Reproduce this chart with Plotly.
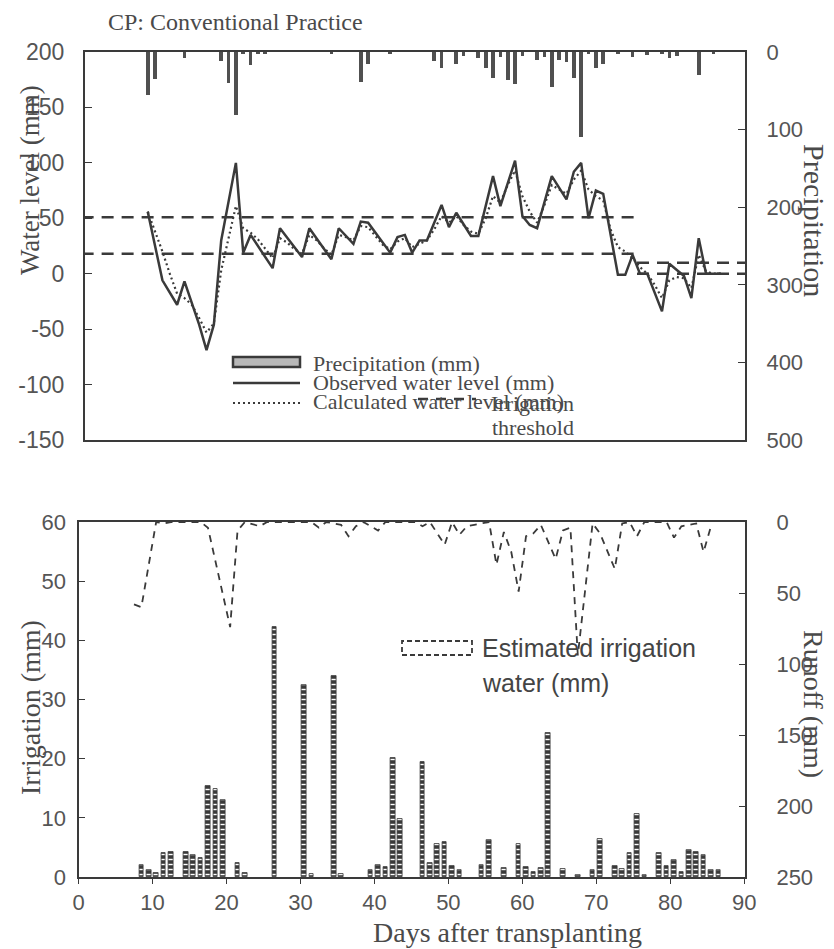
import plotly.graph_objects as go

# page is shown with the browser's default 8px body margin, so the figure is
# sized to fill the rest of the 834x949 window
OFF = 8
W, H = 834 - OFF, 949 - OFF

# ---------------- Top panel data ----------------
obs_days = [9, 11, 13, 14, 16, 17, 18, 19, 21, 22, 23, 26, 27, 30, 31, 34, 35, 37, 38, 39,
            42, 43, 44, 45, 46, 47, 49, 50, 51, 53, 54, 56, 57, 59, 60, 61, 62, 64, 66, 67,
            68, 69, 70, 71, 73, 74, 75, 76, 77, 79, 80, 82, 83, 84, 85, 87]
obs_level = [56, -6, -28, -7, -46, -69, -46, 30, 100, 19, 35, 5, 41, 15, 41, 13, 41, 27, 47, 46,
             19, 33, 35, 19, 30, 30, 62, 42, 55, 34, 34, 88, 61, 102, 52, 44, 41, 88, 67, 92,
             100, 50, 75, 72, -1, -1, 17, 0, 0, -34, 9, -2, -22, 32, 0, 0]

calc_days = list(range(9, 88))
calc_level = [56, 38, 20, 0, -18, -22, -28, -40, -53, -45,
              3, 32, 61, 41, 37, 31, 23, 14, 32, 28,
              22, 18, 35, 30, 23, 17, 35, 33, 30, 43,
              42, 34, 26, 22, 29, 32, 24, 27, 30, 40,
              52, 46, 52, 44, 38, 36, 50, 70, 64, 80,
              93, 70, 56, 46, 62, 80, 76, 72, 85, 93,
              76, 70, 66, 40, 24, 20, 14, 6, 0, -10,
              -22, -6, -3, -4, -13, 17, 2, 0, 0]

precip_days = [9, 10, 14, 19, 20, 21, 22, 23, 24, 25, 34, 38, 39, 42, 48, 49, 51, 52, 54, 55,
               56, 57, 58, 59, 60, 62, 63, 64, 65, 66, 67, 68, 69, 70, 71, 73, 75, 77, 79, 80,
               81, 84, 86]
precip_mm = [55, 35, 8, 12, 40, 81, 3, 17, 2, 2, 2, 39, 15, 2, 12, 20, 15, 5, 8, 20,
             33, 6, 36, 41, 5, 10, 6, 45, 10, 13, 34, 109, 2, 20, 15, 2, 6, 4, 3, 8,
             5, 30, 2]

# irrigation thresholds (two periods)
thr_start = [0, 75.6]
thr_end = [75.6, 91]
thr_upper = [51, 10]
thr_lower = [18, 0]

# ---------------- Bottom panel data ----------------
irr_days = [8, 9, 10, 11, 12, 14, 15, 16, 17, 18, 19, 21, 22, 26, 30, 31, 34, 35, 39, 40,
            41, 42, 43, 46, 47, 48, 49, 50, 51, 54, 55, 57, 59, 60, 61, 62, 63, 65, 67, 69,
            70, 72, 73, 74, 75, 76, 78, 79, 80, 81, 82, 83, 84, 85, 86]
irr_mm = [2.1, 1.2, 0.7, 4.1, 4.2, 4.3, 3.7, 3.2, 15.4, 14.8, 13.0, 2.4, 0.7, 42.3, 32.5, 0.5, 34.0, 0.5, 1.2, 2.1,
          1.7, 20.1, 9.8, 19.4, 2.4, 5.5, 6.0, 1.8, 1.2, 2.1, 6.3, 1.5, 5.5, 1.7, 0.8, 1.5, 24.4, 1.4, 0.3, 1.2,
          6.4, 1.8, 1.4, 4.1, 10.7, 0.4, 4.1, 1.8, 2.9, 0.8, 4.6, 4.3, 3.7, 1.1, 1.1]

ro_days = [7, 8, 10, 11, 12, 16, 17, 20, 21, 22, 24, 25, 31, 32, 33, 35, 36, 37, 38, 40,
           41, 45, 46, 47, 49, 50, 51, 52, 53, 55, 56, 57, 58, 59, 60, 61, 62, 64, 65, 66,
           67, 69, 70, 72, 73, 74, 75, 76, 79, 80, 81, 83, 84, 85]
ro_mm = [58, 60, 0, 1, 0, 0, 4, 74, 6, 0, 3, 0, 0, 4, 0, 2, 10, 3, 0, 6,
         0, 0, 3, 0, 16, 0, 9, 3, 2, 0, 30, 7, 21, 49, 10, 8, 2, 26, 6, 4,
         94, 1, 8, 33, 1, 0, 10, 0, 0, 11, 3, 1, 21, 3]

x_ticks = [0, 10, 20, 30, 40, 50, 60, 70, 80, 90]
wl_ticks = [-150, -100, -50, 0, 50, 100, 150, 200]
pr_ticks = [0, 100, 200, 300, 400, 500]
irr_ticks = [0, 10, 20, 30, 40, 50, 60]
ro_ticks = [0, 50, 100, 150, 200, 250]

# ---------------- styling helpers (window pixel -> paper fraction) ----------------
def px(x):
    return (x - OFF) / W


def py(y):
    return 1 - (y - OFF) / H


SERIF = "Liberation Serif"
SANS = "Liberation Sans"
INK = "#3a3a3a"
TXT = "#4a4a4a"


def tickfont(size=22):
    return dict(family=SANS, size=size, color="#555555")


fig = go.Figure()

# --- top panel traces
fig.add_trace(go.Bar(x=precip_days, y=precip_mm, xaxis="x", yaxis="y2", width=0.5,
                     marker=dict(color="#505050", line=dict(width=0)), showlegend=False))
for i in range(len(thr_start)):
    for lvl in (thr_upper[i], thr_lower[i]):
        fig.add_trace(go.Scatter(x=[thr_start[i], thr_end[i]], y=[lvl, lvl], mode="lines",
                                 line=dict(color=INK, width=2.5, dash="12px,8px"),
                                 xaxis="x", yaxis="y", showlegend=False))
fig.add_trace(go.Scatter(x=calc_days, y=calc_level, mode="lines",
                         line=dict(color=INK, width=2.2, dash="2px,3px"),
                         xaxis="x", yaxis="y", showlegend=False))
fig.add_trace(go.Scatter(x=obs_days, y=obs_level, mode="lines",
                         line=dict(color=INK, width=2.5),
                         xaxis="x", yaxis="y", showlegend=False))

# --- bottom panel: an empty trace so the labelled day axis (x2) exists as a subplot
fig.add_trace(go.Scatter(x=[], y=[], xaxis="x2", yaxis="y3", mode="lines",
                         showlegend=False, hoverinfo="skip"))
# data drawn on x3 (days centred between ticks, as in the source chart)
fig.add_trace(go.Bar(x=irr_days, y=irr_mm, xaxis="x3", yaxis="y3", width=0.62,
                     marker=dict(color="#3a3a3a", line=dict(color="#3a3a3a", width=0.8),
                                 pattern=dict(shape="-", bgcolor="#3a3a3a", fgcolor="white",
                                              size=5, solidity=0.28)),
                     showlegend=False))
fig.add_trace(go.Scatter(x=ro_days, y=ro_mm, mode="lines",
                         line=dict(color=INK, width=1.8, dash="7px,6px"),
                         xaxis="x3", yaxis="y4", showlegend=False))

top_dom = [py(440), py(52)]
bot_dom = [py(877), py(522)]

base = dict(showgrid=False, zeroline=False, linecolor=INK, linewidth=2,
            tickcolor=INK, automargin=False)

fig.update_layout(
    template="none",
    width=W, height=H,
    margin=dict(l=0, r=0, t=0, b=0, pad=0),
    paper_bgcolor="white", plot_bgcolor="white",
    showlegend=False,
    bargap=0,
    xaxis=dict(domain=[px(85), px(745)], range=[0.46, 90.3], anchor="y",
               showticklabels=False, ticks="", showline=True, mirror=True,
               showgrid=False, zeroline=False, linecolor=INK, linewidth=2, automargin=False),
    yaxis=dict(domain=top_dom, range=[-150, 200], tickvals=wl_ticks,
               ticktext=[str(v) for v in wl_ticks], anchor="x",
               ticks="inside", ticklen=7, showline=True, ticklabelstandoff=14,
               tickfont=tickfont(23), **base),
    yaxis2=dict(overlaying="y", side="right", range=[500, 0], tickvals=pr_ticks, anchor="x",
                ticks="inside", ticklen=7, showline=True, ticklabelstandoff=15,
                tickfont=tickfont(22), **base),
    xaxis2=dict(domain=[px(78.5), px(745)], range=[0, 90.1], tickvals=x_ticks, anchor="y3",
                ticks="outside", ticklen=5, showline=True, mirror=True, ticklabelstandoff=0,
                tickfont=tickfont(22), **base),
    xaxis3=dict(overlaying="x2", range=[-0.5, 89.6], visible=False, anchor="y3",
                automargin=False),
    yaxis3=dict(domain=bot_dom, range=[0, 60], tickvals=irr_ticks, anchor="x2",
                ticks="inside", ticklen=6, showline=True, ticklabelstandoff=6,
                tickfont=tickfont(22), **base),
    yaxis4=dict(overlaying="y3", side="right", range=[250, 0], tickvals=ro_ticks, anchor="x2",
                ticks="inside", ticklen=6, showline=True, ticklabelstandoff=25,
                tickfont=tickfont(22), **base),
)

ann = []


def text(s, x, y, size, family=SERIF, xanchor="center", angle=0, color=TXT):
    ann.append(dict(text=s, x=px(x), y=py(y), xref="paper", yref="paper", showarrow=False,
                    xanchor=xanchor, yanchor="middle", textangle=angle,
                    font=dict(family=family, size=size, color=color)))


text("CP: Conventional Practice", 106, 22, 24, xanchor="left")
text("Water level (mm)", 30, 180, 27, angle=-90)
text("Precipitation", 815, 220, 30, angle=90)
text("Irrigation (mm)", 30, 708, 28, angle=-90)
text("Runoff (mm)", 814, 704, 28, angle=90)
text("Days after transplanting", 507, 932, 28)

# top legend texts
text("Precipitation (mm)", 311, 363, 22, xanchor="left")
text("Observed water level (mm)", 311, 382, 22, xanchor="left")
text("Calculated water level (mm)", 311, 402, 22, xanchor="left")
text("Irrigation", 532, 403, 22)
text("threshold", 533, 427, 22)
# bottom legend texts
text("Estimated irrigation", 480, 648, 25, family=SANS, xanchor="left", color="#444444")
text("water (mm)", 480, 683, 25, family=SANS, xanchor="left", color="#444444")

fig.update_layout(annotations=ann)

shapes = [
    dict(type="rect", xref="paper", yref="paper", x0=px(233), x1=px(300), y0=py(367), y1=py(357),
         fillcolor="#b8b8b8", line=dict(color=INK, width=2.5)),
    dict(type="line", xref="paper", yref="paper", x0=px(233), x1=px(300), y0=py(383), y1=py(383),
         line=dict(color=INK, width=2.5)),
    dict(type="line", xref="paper", yref="paper", x0=px(233), x1=px(300), y0=py(403), y1=py(403),
         line=dict(color=INK, width=2, dash="2px,3px")),
    dict(type="line", xref="paper", yref="paper", x0=px(418), x1=px(476), y0=py(399), y1=py(399),
         line=dict(color=INK, width=2.5, dash="10px,8px")),
    dict(type="rect", xref="paper", yref="paper", x0=px(402), x1=px(472), y0=py(655), y1=py(641),
         fillcolor="white", line=dict(color=INK, width=1.8, dash="5px,3px")),
]
fig.update_layout(shapes=shapes)

fig.write_html("out.html")
